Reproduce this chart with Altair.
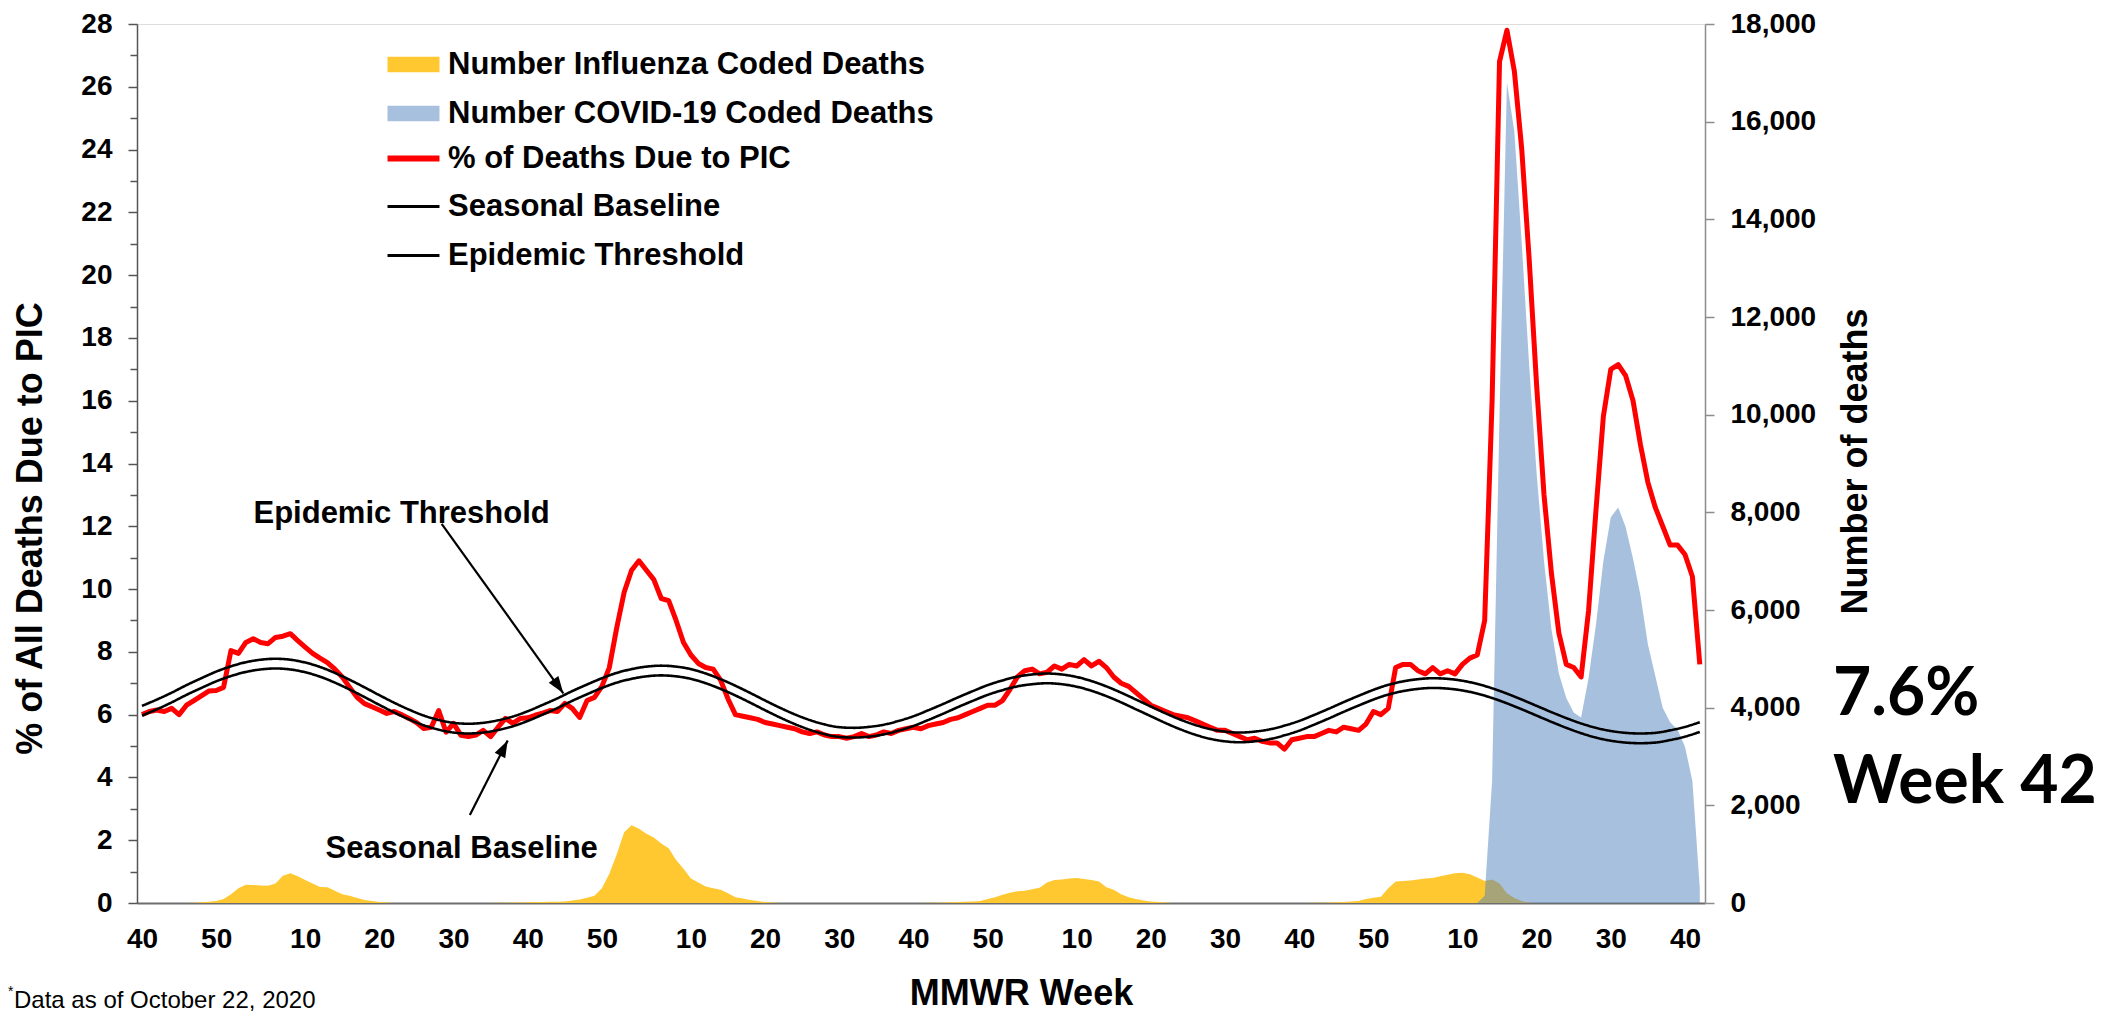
import altair as alt
import pandas as pd

FONT = "Liberation Sans"

# ---------------- data ----------------
WEEK_INDEX = list(range(211))  # 0 = 2016 week 40 ... 210 = 2020 week 42

TICK_POS = [0, 10, 22, 32, 42, 52, 62, 74, 84, 94, 104, 114, 126, 136, 146, 156, 166, 178, 188, 198, 208]
TICK_LABELS = ["40", "50", "10", "20", "30", "40", "50", "10", "20", "30", "40",
               "50", "10", "20", "30", "40", "50", "10", "20", "30", "40"]

PIC_PCT = [
    6.0, 6.1, 6.15, 6.1, 6.2, 6.0, 6.3, 6.45, 6.6, 6.75,
    6.77, 6.87, 8.04, 7.95, 8.3, 8.42, 8.3, 8.26, 8.46, 8.5,
    8.58, 8.36, 8.15, 7.95, 7.8, 7.66, 7.45, 7.2, 6.87, 6.55,
    6.35, 6.25, 6.15, 6.04, 6.1, 6.0, 5.88, 5.75, 5.56, 5.6,
    6.13, 5.44, 5.72, 5.34, 5.3, 5.35, 5.5, 5.3, 5.6, 5.88,
    5.72, 5.88, 5.9, 5.98, 6.05, 6.13, 6.1, 6.36, 6.2, 5.91,
    6.45, 6.55, 6.9, 7.5, 8.77, 9.9, 10.6, 10.9, 10.6, 10.3,
    9.7, 9.63, 9.0, 8.3, 7.9, 7.63, 7.5, 7.45, 7.1, 6.5,
    6.0, 5.95, 5.9, 5.85, 5.75, 5.7, 5.65, 5.6, 5.55, 5.45,
    5.4, 5.45, 5.35, 5.3, 5.3, 5.25, 5.3, 5.4, 5.3, 5.35,
    5.45, 5.4, 5.5, 5.55, 5.6, 5.55, 5.65, 5.7, 5.75, 5.85,
    5.9, 6.0, 6.1, 6.2, 6.3, 6.3, 6.45, 6.8, 7.2, 7.4,
    7.45, 7.3, 7.35, 7.55, 7.45, 7.6, 7.55, 7.75, 7.55, 7.7,
    7.5, 7.2, 7.0, 6.9, 6.7, 6.5, 6.3, 6.2, 6.1, 6.0,
    5.95, 5.9, 5.8, 5.7, 5.6, 5.5, 5.5, 5.4, 5.3, 5.2,
    5.25, 5.15, 5.1, 5.1, 4.9, 5.2, 5.25, 5.3, 5.3, 5.4,
    5.5, 5.45, 5.6, 5.55, 5.5, 5.7, 6.1, 6.0, 6.2, 7.5,
    7.6, 7.6, 7.4, 7.3, 7.5, 7.3, 7.4, 7.3, 7.6, 7.8,
    7.9, 9.0, 16.0, 26.8, 27.8, 26.5, 24.0, 20.5, 16.5, 13.0,
    10.5, 8.6, 7.6, 7.5, 7.2, 9.3, 12.5, 15.5, 17.0, 17.15,
    16.8, 16.0, 14.6, 13.4, 12.6, 12.0, 11.4, 11.4, 11.1, 10.4,
    7.6,
]

FLU_DEATHS = (
    [0, 0, 0, 0, 0, 0, 0,
     5, 15, 25, 40, 80, 180, 300, 375, 370, 360, 355, 400, 560, 610, 550, 470, 400, 330,
     320, 250, 180, 150, 100, 60, 40, 20, 10]
    + [0] * 14
    + [5, 5, 10, 10, 15, 20, 20, 25, 25, 30, 50, 70, 110, 150, 300, 600, 1000, 1450, 1590,
       1520, 1420, 1340, 1220, 1120, 880, 700, 500, 420, 340, 300, 270, 200, 120, 90, 60, 40, 20, 10]
    + [0] * 20
    + [5, 5, 10, 15, 20, 25, 30, 40, 80, 120, 170, 210, 240, 250, 280, 310, 420, 470, 480,
       500, 510, 490, 470, 440, 320, 270, 180, 120, 80, 50, 30, 20, 10]
    + [0] * 19
    + [5, 5, 10, 15, 20, 30, 40, 80, 110, 130, 300, 440, 450, 460, 480, 500, 510, 550, 580,
       610, 620, 590, 520, 450, 480, 400, 200, 100, 40, 10]
    + [0] * 23
)

COVID_DEATHS = [0] * 180 + [
    0, 150, 2500, 10000, 16800, 15800, 13500, 11000, 8800, 7000,
    5600, 4700, 4200, 3900, 3800, 4600, 5700, 7000, 7900, 8100,
    7700, 7050, 6300, 5300, 4650, 4000, 3700, 3550, 3200, 2500,
    300,
]

CURVE_WEEKS = list(range(0, 211, 2))
BASELINE = [
    5.97, 6.17, 6.39, 6.63, 6.85, 7.06, 7.23, 7.36, 7.44, 7.47,
    7.44, 7.35, 7.21, 7.02, 6.80, 6.56, 6.31, 6.07, 5.85, 5.66,
    5.52, 5.43, 5.40, 5.43, 5.51, 5.63, 5.80, 6.00, 6.21, 6.44,
    6.65, 6.85, 7.02, 7.14, 7.22, 7.25, 7.22, 7.14, 7.00, 6.82,
    6.61, 6.38, 6.14, 5.91, 5.70, 5.52, 5.38, 5.29, 5.27, 5.30,
    5.37, 5.49, 5.64, 5.83, 6.03, 6.24, 6.44, 6.63, 6.78, 6.90,
    6.97, 7.00, 6.97, 6.89, 6.76, 6.59, 6.39, 6.17, 5.95, 5.73,
    5.53, 5.36, 5.23, 5.15, 5.12, 5.15, 5.22, 5.34, 5.49, 5.68,
    5.88, 6.09, 6.29, 6.48, 6.64, 6.75, 6.82, 6.85, 6.83, 6.77,
    6.67, 6.53, 6.36, 6.17, 5.97, 5.77, 5.58, 5.41, 5.27, 5.17,
    5.11, 5.09, 5.11, 5.19, 5.30, 5.45,
]
THRESHOLD = [
    6.28, 6.48, 6.70, 6.94, 7.16, 7.37, 7.54, 7.67, 7.75, 7.78,
    7.75, 7.66, 7.52, 7.33, 7.11, 6.87, 6.62, 6.38, 6.16, 5.97,
    5.83, 5.74, 5.71, 5.74, 5.82, 5.94, 6.11, 6.31, 6.52, 6.75,
    6.96, 7.16, 7.33, 7.45, 7.53, 7.56, 7.53, 7.45, 7.31, 7.13,
    6.92, 6.69, 6.45, 6.22, 6.01, 5.83, 5.69, 5.60, 5.58, 5.61,
    5.68, 5.80, 5.95, 6.14, 6.34, 6.55, 6.75, 6.94, 7.09, 7.21,
    7.28, 7.31, 7.28, 7.20, 7.07, 6.90, 6.70, 6.48, 6.26, 6.04,
    5.84, 5.67, 5.54, 5.46, 5.43, 5.46, 5.53, 5.65, 5.80, 5.99,
    6.19, 6.40, 6.60, 6.79, 6.95, 7.06, 7.13, 7.16, 7.14, 7.08,
    6.98, 6.84, 6.67, 6.48, 6.28, 6.08, 5.89, 5.72, 5.58, 5.48,
    5.42, 5.40, 5.42, 5.50, 5.61, 5.76,
]

FLU_NAME = "Number Influenza Coded Deaths"
COVID_NAME = "Number COVID-19 Coded Deaths"
PIC_NAME = "% of Deaths Due to PIC"
BASE_NAME = "Seasonal Baseline"
THR_NAME = "Epidemic Threshold"

ANNOT_TEXT = ["Epidemic Threshold", "Seasonal Baseline"]
ANNOT_X = [35.0, 43.1]
ANNOT_Y = [12.11, 1.43]
ARROW_X0 = [40.4, 44.2]
ARROW_Y0 = [12.08, 2.8]
ARROW_X1 = [56.8, 49.3]
ARROW_Y1 = [6.68, 5.18]
ARROW_ANGLE = [145, 27]

# ---------------- frames ----------------
pic_df = pd.DataFrame({"week": WEEK_INDEX, "pct": PIC_PCT, "s": PIC_NAME})
flu_df = pd.DataFrame({"week": WEEK_INDEX, "deaths": FLU_DEATHS, "series": FLU_NAME})
covid_df = pd.DataFrame({"week": WEEK_INDEX, "deaths": COVID_DEATHS, "series": COVID_NAME})
curves_df = pd.concat([
    pd.DataFrame({"week": CURVE_WEEKS, "pct": BASELINE, "curve": BASE_NAME}),
    pd.DataFrame({"week": CURVE_WEEKS, "pct": THRESHOLD, "curve": THR_NAME}),
])
annot_df = pd.DataFrame({"t": ANNOT_TEXT, "x": ANNOT_X, "y": ANNOT_Y})
arrow_df = pd.DataFrame({"x0": ARROW_X0, "y0": ARROW_Y0, "x1": ARROW_X1,
                         "y1": ARROW_Y1, "angle": ARROW_ANGLE})

# ---------------- scales / axes ----------------
X_SCALE = alt.Scale(domain=[-0.67, 210.7], nice=False, zero=False)
X_AXIS = alt.Axis(
    orient="bottom", values=TICK_POS,
    labelExpr=f"{TICK_LABELS}[indexof({TICK_POS}, datum.value)]",
    ticks=False, grid=False, domainColor="#6d6d6d", domainWidth=2,
    labelFont=FONT, labelFontSize=28, labelFontWeight="bold", labelColor="black",
    labelPadding=22, labelOverlap=False, labelFlush=False,
    title="MMWR Week", titleFont=FONT, titleFontSize=36, titleFontWeight="bold",
    titleColor="black", titleX=884, titleY=101, titleAlign="center",
    titleBaseline="alphabetic",
)
PCT_SCALE = alt.Scale(domain=[0, 28], nice=False)
PCT_AXIS = alt.Axis(
    orient="left", values=list(range(0, 29)),
    labelExpr="datum.value % 2 == 0 ? datum.label : ''",
    tickSize={"condition": {"test": "datum.value % 2 == 0", "value": 9}, "value": 7},
    grid=False, domainColor="#555555", domainWidth=1.5, tickColor="#555555", tickWidth=1.5,
    labelFont=FONT, labelFontSize=28, labelFontWeight="bold", labelColor="black",
    labelPadding=16, labelOverlap=False,
    title="% of All Deaths Due to PIC", titleFont=FONT, titleFontSize=36,
    titleFontWeight="bold", titleColor="black", titleAngle=270, titleX=-107, titleY=504,
    titleAlign="center", titleBaseline="middle",
)
DEATH_SCALE = alt.Scale(domain=[0, 18000], nice=False)
DEATH_AXIS = alt.Axis(
    orient="right", values=list(range(0, 18001, 2000)), format=",.0f",
    grid=False, domainColor="#8c8c8c", domainWidth=1.5, tickColor="#8c8c8c", tickWidth=1.5,
    tickSize=9, labelFont=FONT, labelFontSize=28, labelFontWeight="bold", labelColor="black",
    labelPadding=16, labelOverlap=False,
    title="Number of deaths", titleFont=FONT, titleFontSize=36, titleFontWeight="bold",
    titleColor="black", titleAngle=270, titleX=150, titleY=437,
    titleAlign="center", titleBaseline="middle",
)

def xenc(field="week"):
    return alt.X(f"{field}:Q", scale=X_SCALE, axis=X_AXIS)

def pct_y(field="pct"):
    return alt.Y(f"{field}:Q", scale=PCT_SCALE, axis=PCT_AXIS)

LEG_COMMON = dict(
    title=None, orient="none", direction="vertical", padding=0,
    labelFont=FONT, labelFontSize=31, labelFontWeight="bold", labelColor="black",
    labelLimit=900, labelOffset=19, rowPadding=17, symbolSize=108, legendX=261,
)

fill_scale = alt.Scale(domain=[FLU_NAME, COVID_NAME],
                       range=["#FFC830", "rgba(79,129,189,0.5)"])
fill_legend = alt.Legend(symbolType="M-5,-1.5H5V1.5H-5Z", symbolStrokeWidth=0,
                         symbolOpacity=1, legendY=25, **LEG_COMMON)

# ---------------- layers ----------------
flu_area = alt.Chart(flu_df).mark_area(opacity=1).encode(
    x=xenc(), y=alt.Y("deaths:Q", scale=DEATH_SCALE, axis=DEATH_AXIS),
    fill=alt.Fill("series:N", scale=fill_scale, legend=fill_legend),
)
covid_area = alt.Chart(covid_df).mark_area(opacity=1).encode(
    x=xenc(), y=alt.Y("deaths:Q", scale=DEATH_SCALE, axis=DEATH_AXIS),
    fill=alt.Fill("series:N", scale=fill_scale, legend=fill_legend),
)
deaths_group = alt.layer(flu_area, covid_area)

red_line = alt.Chart(pic_df).mark_line(strokeWidth=5, strokeJoin="round").encode(
    x=xenc(), y=pct_y(),
    stroke=alt.Stroke("s:N", scale=alt.Scale(domain=[PIC_NAME], range=["#FF0000"]),
                      legend=alt.Legend(symbolType="M-5,0H5", symbolStrokeWidth=6,
                                        legendY=119, **LEG_COMMON)),
)
curves = alt.Chart(curves_df).mark_line(strokeWidth=2.6, color="black",
                                         interpolate="monotone").encode(
    x=xenc(), y=pct_y(),
    strokeDash=alt.StrokeDash("curve:N",
                              scale=alt.Scale(domain=[BASE_NAME, THR_NAME], range=[[1, 0], [1, 0]]),
                              legend=alt.Legend(symbolType="M-5,0H5", symbolStrokeWidth=3,
                                                symbolStrokeColor="black",
                                                legendY=167, **LEG_COMMON)),
)
annot_text = alt.Chart(annot_df).mark_text(
    font=FONT, fontSize=31, fontWeight="bold", color="black",
    align="center", baseline="alphabetic",
).encode(x=xenc("x"), y=pct_y("y"), text="t:N")
arrows = alt.Chart(arrow_df).mark_rule(color="black", strokeWidth=2.2).encode(
    x=xenc("x0"), y=pct_y("y0"), x2="x1:Q", y2="y1:Q",
)
heads = alt.Chart(arrow_df).mark_point(
    shape="M0,0L-0.45,1.3L0.45,1.3Z", size=685, filled=True, color="black", opacity=1,
).encode(x=xenc("x1"), y=pct_y("y1"), angle=alt.Angle("angle:Q", scale=None))


def text_layer(text, px, py, font, size, weight="bold"):
    return alt.Chart(pd.DataFrame({"t": [text]})).mark_text(
        font=font, fontSize=size, fontWeight=weight, color="black",
        align="left", baseline="alphabetic",
    ).encode(x=alt.value(px), y=alt.value(py), text="t:N")


big1 = text_layer("7.6%", 1696, 691, "Lato", 66)
big2 = text_layer("Week 42", 1696, 779, "Lato", 66)
star = text_layer("*", -129, 972, FONT, 14, "normal")
note = text_layer("Data as of October 22, 2020", -123, 984, FONT, 24, "normal")

pct_group = alt.layer(red_line, curves, arrows, heads, annot_text, big1, big2, star, note)

chart = alt.layer(deaths_group, pct_group).resolve_scale(
    y="independent"
).properties(
    width=1568, height=879,
    padding={"left": 129, "top": 16, "right": 412, "bottom": 109},
    autosize=alt.AutoSizeParams(type="none"),
).configure_view(strokeWidth=0).configure(background="white")

chart.save("out.html", embed_options={"renderer": "svg", "actions": False})
